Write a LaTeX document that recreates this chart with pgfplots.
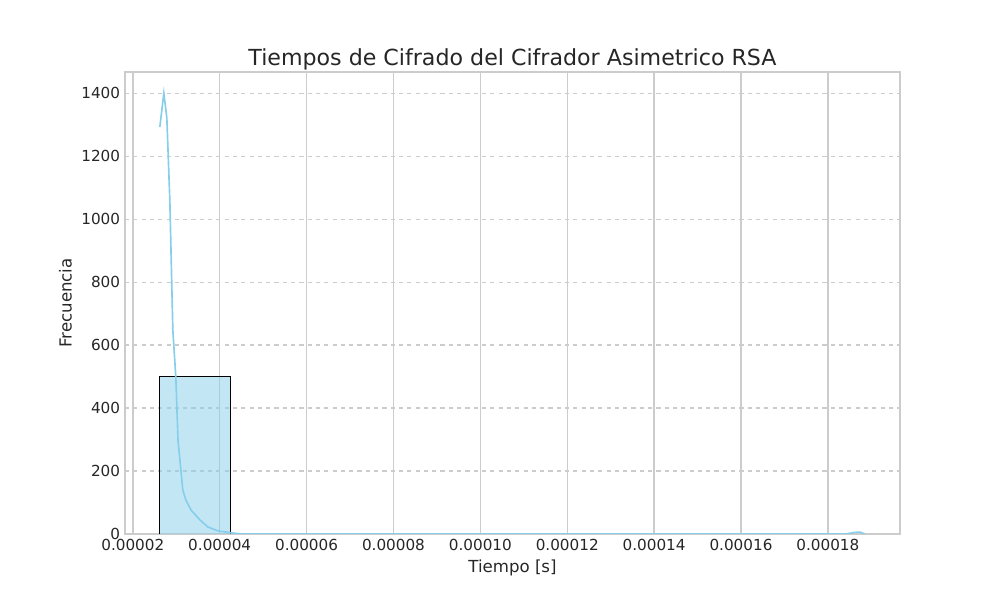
\documentclass[border=0pt]{standalone}
\usepackage{pgfplots}
\pgfplotsset{compat=1.18}
\usepackage{fontspec}
\setmainfont{DejaVu Sans}
\definecolor{sky}{RGB}{135,206,235}
\definecolor{gridc}{RGB}{204,204,204}
\begin{document}
\begin{tikzpicture}
\useasboundingbox (0,0) rectangle (10in,6in);
\begin{axis}[at={(1.25in,0.66in)},anchor=south west,
 width=7.75in,height=4.62in,scale only axis,
 xmin=0.0000182,xmax=0.0001966,ymin=0,ymax=1467,
 xtick={0.00002,0.00004,...,0.00019},
 xticklabels={0.00002,0.00004,0.00006,0.00008,0.00010,0.00012,0.00014,0.00016,0.00018},
 ytick={0,200,...,1400},
 yticklabel style={/pgf/number format/1000 sep={}},
 scaled x ticks=false,
 /pgf/number format/assume math mode=true,
 tick label style={font=\fontsize{11}{13}\selectfont,color=black!85},
 xlabel={Tiempo [s]},ylabel={Frecuencia},
 label style={font=\fontsize{12}{14}\selectfont,color=black!85},
 title={Tiempos de Cifrado del Cifrador Asimetrico RSA},
 title style={font=\fontsize{16}{19}\selectfont,color=black!85,yshift=-8pt},
 axis line style={gridc,line width=1pt},
 tick style={draw=none},
 xmajorgrids,ymajorgrids,
 x grid style={gridc,line width=1pt},
 y grid style={gridc,dashed,line width=0.8pt}]
\addplot[draw=black,fill=sky,fill opacity=0.5,draw opacity=1] coordinates {(0.0000262,0)(0.0000262,500)(0.0000425,500)(0.0000425,0)} -- cycle;
\addplot[sky,line width=1.2pt] coordinates {
(0.00002622,1292)(0.00002714,1400)(0.00002783,1321)(0.00002852,1060)(0.00002921,648)(0.0000299,498)(0.0000304,298)(0.0000315,140)(0.0000322,108)(0.0000334,76)(0.0000355,44)(0.0000373,22)(0.0000396,10)(0.000043,3)(0.000045,0)(0.000184,0)(0.0001862,5)(0.0001874,6)(0.0001885,0)};
\end{axis}
\end{tikzpicture}
\end{document}
